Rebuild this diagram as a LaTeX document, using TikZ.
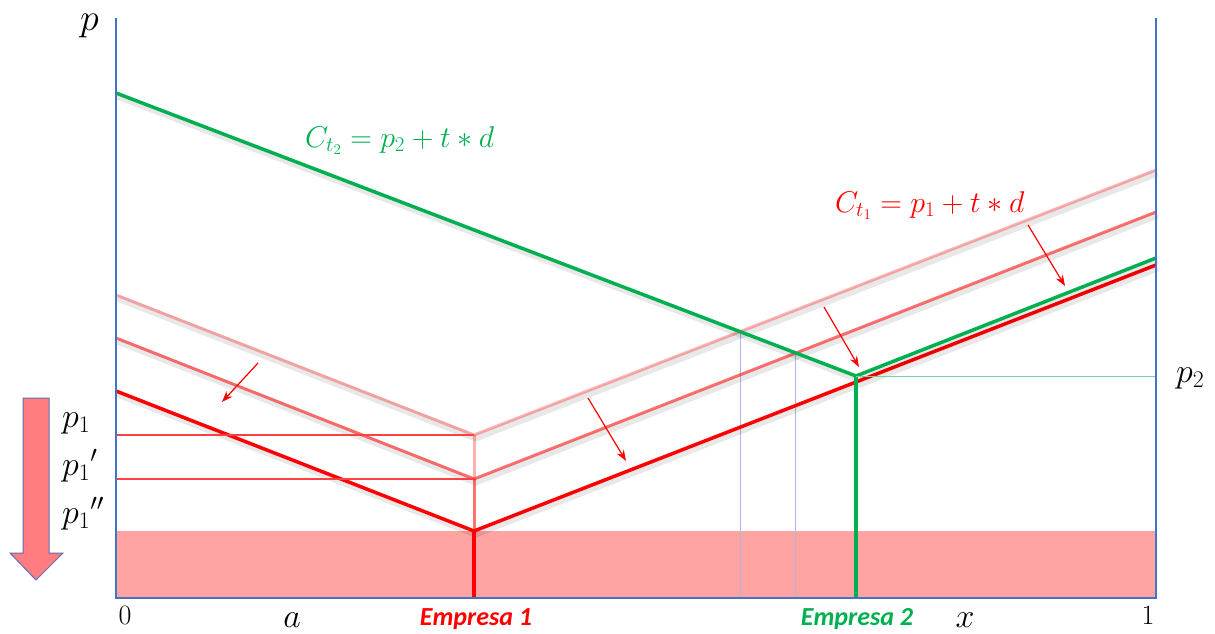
\RequirePackage{fix-cm}
\documentclass[tikz,border=0pt]{standalone}
\usepackage{fontspec}
\newfontfamily\calibri{Carlito}
\usetikzlibrary{arrows.meta}
\definecolor{cAxis}{RGB}{68,114,196}
\definecolor{cRed}{RGB}{255,0,0}
\definecolor{cGreen}{RGB}{0,176,80}
\definecolor{cBand}{RGB}{255,163,163}
\definecolor{cDown}{RGB}{255,124,128}
\definecolor{cDownEdge}{RGB}{96,110,180}
\definecolor{cDrop}{RGB}{170,185,228}
\tikzset{
  ax/.style={draw=cAxis, line width=2pt},
  soft/.style={preaction={draw=black, draw opacity=0.09, line width=7pt,
      transform canvas={shift={(1.5pt,-3pt)}}}},
  cost1/.style={draw=cRed, line width=3.5pt},
  cost1a/.style={cost1, draw opacity=0.55, line width=3pt},
  cost1b/.style={cost1, draw opacity=0.3, line width=3pt},
  cost2/.style={draw=cGreen, line width=3.5pt},
  pline/.style={draw=cRed!75, line width=1.2pt},
  drop/.style={draw=cDrop, line width=0.9pt},
  shiftarr/.style={draw=cRed, line width=1.2pt, -{Stealth[length=11pt,width=8pt]}},
  mlab/.style={inner sep=0pt, font=\fontsize{34}{38}\selectfont},
  numlab/.style={inner sep=0pt, font=\fontsize{28}{32}\selectfont},
  firm/.style={inner sep=0pt, font=\calibri\bfseries\itshape\fontsize{26}{30}\selectfont},
  eq/.style={inner sep=0pt, font=\fontsize{30}{34}\selectfont},
}

\begin{document}
\begin{tikzpicture}[x=1pt, y=-1pt]
\useasboundingbox (0,0) rectangle (1215,633);

% ===== grid values =====
\def\xL{116}   % p axis
\def\xR{1156}  % right axis
\def\yT{18}
\def\yB{598}
\def\xE{474}   % empresa 1
\def\xF{856}   % empresa 2

\coordinate (o) at (\xL,\yB);
\coordinate (q) at (\xR,\yB);
\coordinate (ptop) at (\xL,\yT);
\coordinate (qtop) at (\xR,\yT);

% firm 1 cost lines (three levels)
\coordinate (v0) at (\xE,531);
\coordinate (v1) at (\xE,479);
\coordinate (v2) at (\xE,435);
\coordinate (l0) at (\xL,391);
\coordinate (r0) at (\xR,265);
\coordinate (l1) at (\xL,338);
\coordinate (r1) at (\xR,212);
\coordinate (l2) at (\xL,295);
\coordinate (r2) at (\xR,170);
\coordinate (e1) at (\xE,\yB);
\coordinate (h1) at (\xL,435);
\coordinate (h2) at (\xL,479);

% firm 2 cost line
\coordinate (g0) at (\xL,93);
\coordinate (gv) at (\xF,376);
\coordinate (gr) at (\xR,258);
\coordinate (e2) at (\xF,\yB);

% ===== band below p1'' =====
\fill[cBand] (\xL,531) rectangle (q);

% market boundaries
\coordinate (i2) at (intersection of g0--gv and v2--r2);
\coordinate (i1) at (intersection of g0--gv and v1--r1);
\draw[drop] (i2) -- (i2 |- o);
\draw[drop] (i1) -- (i1 |- o);

% ===== cost lines =====
\draw[cost1b, soft] (l2) -- (v2) -- (r2);
\draw[cost1b] (v2) -- (v1);
\draw[cost1a, soft] (l1) -- (v1) -- (r1);
\draw[cost1a] (v1) -- (v0);
\draw[cost1, soft] (l0) -- (v0) -- (r0);
\draw[cost1] (v0) -- (e1);

\draw[cost2, soft] (g0) -- (gv) -- (gr);
\draw[cost2] (gv) -- (e2);
\draw[draw=cGreen!55, line width=0.9pt] (gv) -- (gr |- gv);

% price levels
\draw[pline] (h1) -- (v2);
\draw[pline] (h2) -- (v1);

% axes
\draw[ax] (ptop) -- (o) -- (q) -- (qtop);

% ===== shift arrows =====
\coordinate (s1) at (258,363); \coordinate (t1) at (222,402);
\coordinate (s2) at (588,398); \coordinate (t2) at (626,461);
\coordinate (s3) at (824,307); \coordinate (t3) at (859,367);
\coordinate (s4) at (1028,225); \coordinate (t4) at (1065,286);
\draw[shiftarr] (s1) -- (t1);
\draw[shiftarr] (s2) -- (t2);
\draw[shiftarr] (s3) -- (t3);
\draw[shiftarr] (s4) -- (t4);

% big down arrow
\filldraw[fill=cDown, draw=cDownEdge, line width=1pt]
  (23,398) -- (49,398) -- (49,553) -- (63,553) -- (36,580) -- (10,553) -- (23,553) -- cycle;

% ===== labels =====
\node[mlab, font=\fontsize{38}{42}\selectfont, anchor=base east] (plab) at (99,30) {$p$};
\node[mlab, anchor=base west] (p1) at (62,427) {$p_1$};
\node[mlab, anchor=base west] (p1a) at (62,475) {$p_1{}'$};
\node[mlab, anchor=base west] (p1b) at (62,523) {$p_1{}''$};
\node[mlab, anchor=base west] (p2) at (1176,382) {$p_2$};

\node[numlab, anchor=base] (zero) at (125,624) {0};
\node[numlab, anchor=base] (one) at (1148,624) {1};
\node[mlab, anchor=base] (alab) at (292,627) {$a$};
\node[mlab, anchor=base] (xlab) at (965,627) {$x$};
\node[firm, text=cRed, anchor=base] (f1) at (476,625) {Empresa 1};
\node[firm, text=cGreen, anchor=base] (f2) at (857,625) {Empresa 2};

\node[eq, text=cGreen, anchor=base west] (c2) at (305,147) {$C_{t_2}=p_2+t\ast d$};
\node[eq, text=cRed, anchor=base west] (c1) at (835,212) {$C_{t_1}=p_1+t\ast d$};

\end{tikzpicture}
\end{document}
